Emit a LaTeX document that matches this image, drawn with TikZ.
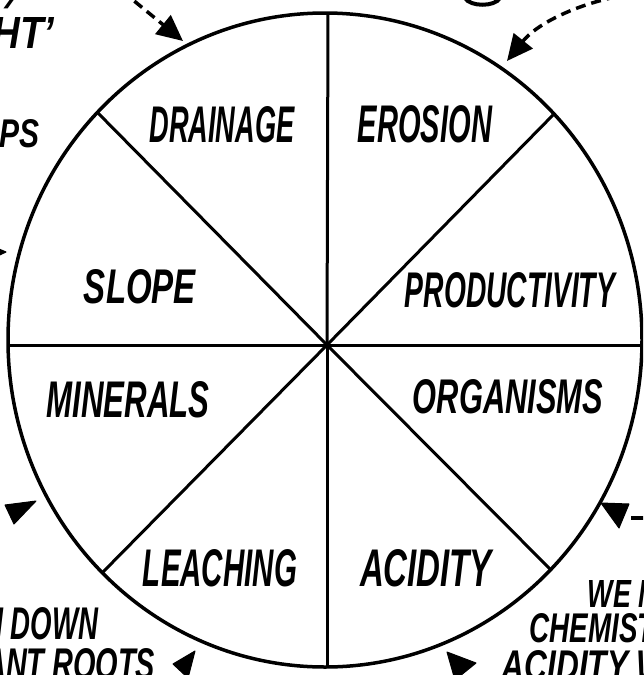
\documentclass[tikz,border=0pt]{standalone}
\usepackage{fontspec}
\setmainfont{Liberation Sans}
\usepackage{graphicx}
\usetikzlibrary{arrows.meta}
% hand lettering squeezed to a given width and cap height
\newcommand{\hw}[3]{\resizebox{#1pt}{#2pt}{\bfseries\itshape #3}}

\begin{document}
\begin{tikzpicture}[x=1pt, y=-1pt, line width=3.5pt]
    \tikzstyle{sector} = [inner sep=0pt]
    \tikzstyle{note} = [inner sep=0pt]
    \tikzstyle{dasharrow} = [line width=3.5pt, dash pattern=on 10pt off 6pt, -{Triangle[length=26pt,width=24pt]}]
    \tikzstyle{head} = [fill=black, draw=black, line width=1pt, line join=round]

    \useasboundingbox (0,0) rectangle (643,675);
    \clip (0,0) rectangle (643,675);

    % Wheel
    \draw (325,340) ellipse [x radius=317pt, y radius=327pt];
    \coordinate (hub) at (327,345);
    \coordinate (rimN) at (328,13);
    \coordinate (rimNE) at (553,115);
    \coordinate (rimE) at (642,345);
    \coordinate (rimSE) at (550,569);
    \coordinate (rimS) at (327,667);
    \coordinate (rimSW) at (103,572);
    \coordinate (rimW) at (8,345);
    \coordinate (rimNW) at (97,112);
    \foreach \r in {N,NE,E,SE,S,SW,W,NW}
        \draw [line width=3pt] (hub) -- (rim\r);

    % Sector labels
    \node [sector] (drainage) at (222,125) {\hw{145}{36}{DRAINAGE}};
    \node [sector] (erosion) at (425,124) {\hw{134}{37}{EROSION}};
    \node [sector] (slope) at (140,287) {\hw{112}{34}{SLOPE}};
    \node [sector] (productivity) at (510,290) {\hw{210}{35}{PRODUCTIVITY}};
    \node [sector] (minerals) at (128,400) {\hw{163}{36}{MINERALS}};
    \node [sector] (organisms) at (508,397) {\hw{190}{34}{ORGANISMS}};
    \node [sector] (leaching) at (220,568) {\hw{154}{37}{LEACHING}};
    \node [sector] (acidity) at (426,568) {\hw{132}{37}{ACIDITY}};

    % Notes round the wheel (cut at the edges)
    \node [note] (slash) at (10,2) {\hw{10}{14}{/}};
    \node [note, anchor=south east] (ht) at (56,50) {\hw{62}{31}{HT’}};
    \node [note, anchor=west] (ps) at (-2,134) {\hw{40}{28}{PS}};
    \node [note, anchor=east] (down) at (100,624) {\hw{115}{32}{N DOWN}};
    \node [note, anchor=east] (roots) at (157,664) {\hw{170}{31}{ANT ROOTS}};
    \node [note, anchor=west] (wen) at (586,594) {\hw{70}{27}{WE N}};
    \node [note, anchor=west] (chemist) at (528,628) {\hw{125}{29}{CHEMIST}};
    \node [note, anchor=west] (aciditynote) at (500,666) {\hw{165}{30}{ACIDITY W}};

    % Dashed arrows onto the rim
    \coordinate (tlfrom) at (122,-9);
    \coordinate (tlto) at (183,41);
    \draw [dasharrow] (tlfrom) -- (tlto);
    \coordinate (trfrom) at (648,-8);
    \coordinate (trto) at (507,61);
    \draw [dasharrow] (trfrom) .. controls (592,-3) and (540,20) .. (trto);
    \draw [line width=4pt] (465,-2) .. controls (470,7) and (495,7) .. (500,-2);

    % Loose arrow heads
    \filldraw [head] (-15,243) -- (6,252) -- (-15,262) -- cycle;
    \filldraw [head] (5,505) -- (36,501) -- (14,524) -- cycle;
    \filldraw [head] (173,664) -- (195,651) -- (188,678) -- cycle;
    \filldraw [head] (447,652) -- (476,663) -- (455,680) -- cycle;
    \filldraw [head] (601,503) -- (629,504) -- (619,528) -- cycle;
    \draw [line width=3.5pt] (631,518) -- (646,518);
\end{tikzpicture}
\end{document}
